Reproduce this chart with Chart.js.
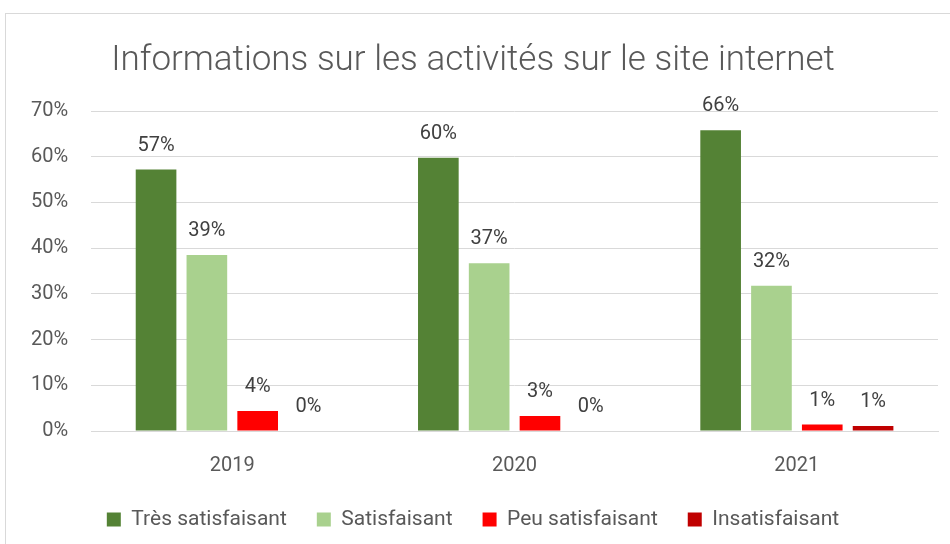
<!DOCTYPE html>
<html>
<head>
<meta charset="utf-8">
<script src="https://cdn.jsdelivr.net/npm/chart.js@4"></script>
<style>
  html, body { margin: 0; padding: 0; background: #fff; }
  #wrap { width: 950px; height: 544px; position: relative; }
</style>
</head>
<body>
<div id="wrap"><canvas id="c" width="950" height="544"></canvas></div>
<script>
const years = ["2019", "2020", "2021"];
const tresSatisfaisant = [57.2, 59.8, 65.8];
const satisfaisant = [38.5, 36.7, 31.8];
const peuSatisfaisant = [4.4, 3.3, 1.4];
const insatisfaisant = [0, 0, 1.1];

const FONT = "Roboto, 'Noto Sans', sans-serif";
const GREY = "#595959";

// frame of the chart box (Excel chart area border)
const framePlugin = {
  id: "frame",
  beforeDraw(chart) {
    const ctx = chart.ctx;
    ctx.save();
    ctx.fillStyle = "#fff";
    ctx.fillRect(0, 0, chart.width, chart.height);
    ctx.strokeStyle = "#d9d9d9";
    ctx.lineWidth = 1;
    ctx.strokeRect(5.5, 13.5, 1000, 600);
    ctx.restore();
  },
};

// value labels over each bar
const valueLabels = {
  id: "valueLabels",
  afterDatasetsDraw(chart) {
    const ctx = chart.ctx;
    ctx.save();
    ctx.font = "20px " + FONT;
    ctx.fillStyle = "#404040";
    ctx.textAlign = "center";
    ctx.textBaseline = "middle";
    chart.data.datasets.forEach((ds, i) => {
      chart.getDatasetMeta(i).data.forEach((bar, j) => {
        ctx.fillText(Math.round(ds.data[j]) + "%", bar.x, bar.y - 24);
      });
    });
    ctx.restore();
  },
};

new Chart(document.getElementById("c"), {
  type: "bar",
  data: {
    labels: years,
    datasets: [
      { label: "Très satisfaisant", data: tresSatisfaisant, backgroundColor: "#548235" },
      { label: "Satisfaisant", data: satisfaisant, backgroundColor: "#A9D18E" },
      { label: "Peu satisfaisant", data: peuSatisfaisant, backgroundColor: "#FF0000" },
      { label: "Insatisfaisant", data: insatisfaisant, backgroundColor: "#C00000" },
    ],
  },
  options: {
    responsive: false,
    animation: false,
    datasets: { bar: { categoryPercentage: 0.72, barPercentage: 0.8 } },
    layout: { padding: { left: 8, right: 12, top: 40, bottom: 4 } },
    plugins: {
      title: {
        display: true,
        text: "Informations sur les activités sur le site internet",
        color: GREY,
        font: { family: FONT, size: 35, weight: 300 },
        padding: { top: 0, bottom: 29 },
      },
      legend: {
        position: "bottom",
        labels: {
          color: GREY,
          font: { family: FONT, size: 21 },
          boxWidth: 14,
          boxHeight: 14,
          padding: 30,
        },
      },
      tooltip: { enabled: false },
    },
    scales: {
      x: {
        grid: { display: false },
        border: { color: "#d9d9d9" },
        ticks: { color: GREY, font: { family: FONT, size: 20 }, padding: 15 },
        // let the labels sit closer to the legend, like the original
        afterFit: (scale) => { scale.height -= 14; },
      },
      y: {
        min: 0,
        max: 70,
        border: { display: false },
        grid: { color: "#d9d9d9", drawTicks: false },
        ticks: {
          stepSize: 10,
          color: GREY,
          font: { family: FONT, size: 20 },
          padding: 23,
          callback: (v) => v + "%",
        },
      },
    },
  },
  plugins: [framePlugin, valueLabels],
});
</script>
</body>
</html>
